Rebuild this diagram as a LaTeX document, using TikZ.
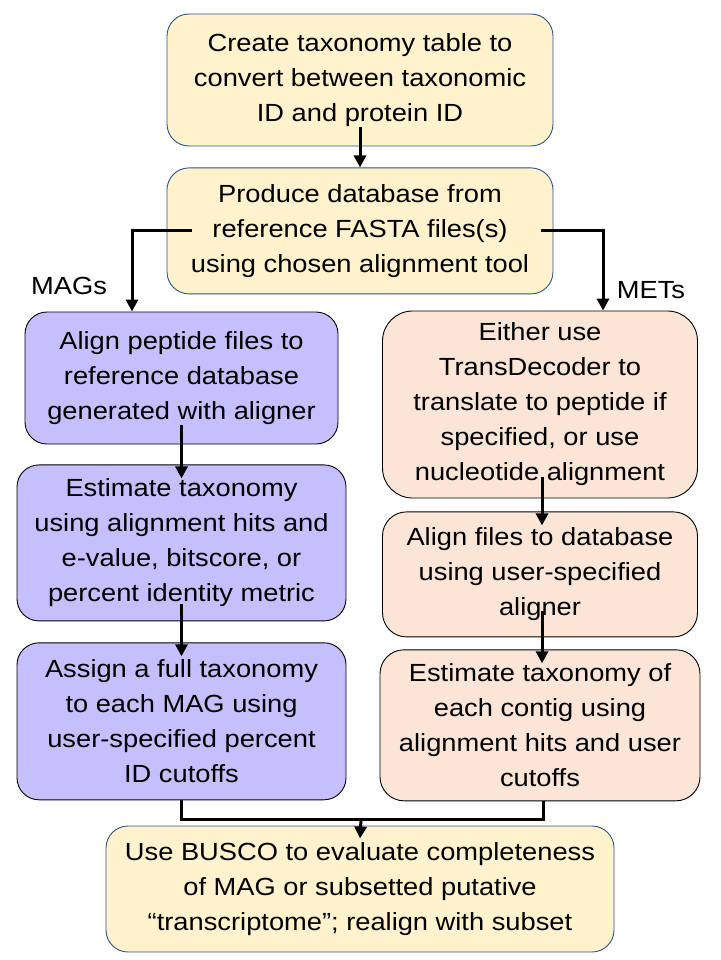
\documentclass[tikz,border=0pt]{standalone}
\usepackage{fontspec}
\setmainfont{Liberation Sans}[FakeStretch=1.1]
\usepackage{xcolor}
\definecolor{TaxYellow}{HTML}{FFF2CC}
\definecolor{TaxEdge}{HTML}{2F528F}
\definecolor{MagViolet}{HTML}{C6BFFD}
\definecolor{MetPeach}{HTML}{FBE5D6}
\usepackage{tikz}
\usetikzlibrary{arrows.meta,positioning}
\tikzset{
  txnode/.style={draw=TaxEdge, fill=TaxYellow, line width=0.9pt, rounded corners=22pt, align=center,
                 font=\fontsize{24.8}{35}\selectfont, inner sep=3pt},
  magnode/.style={draw=black, fill=MagViolet, line width=0.9pt, rounded corners=22pt, align=center,
                 font=\fontsize{24.8}{35}\selectfont, inner sep=3pt},
  metnode/.style={draw=black, fill=MetPeach, line width=0.9pt, rounded corners=24pt, align=center,
                 font=\fontsize{24.8}{35}\selectfont, inner sep=3pt},
  tagnode/.style={font=\fontsize{24.8}{35}\selectfont, inner sep=0pt},
  flowline/.style={line width=3pt, black},
  flowarr/.style={-{Triangle[width=12pt,length=12pt]}, line width=3pt, black}
}

\begin{document}
\begin{tikzpicture}[x=1pt, y=-1pt]
\useasboundingbox (0,0) rectangle (720,960);
% shared steps
\node[txnode, minimum width=386pt, minimum height=132pt] (taxtab) at (360,80)
  {Create taxonomy table to\\convert between taxonomic\\ID and protein ID};
\node[txnode, minimum width=386pt, minimum height=126pt, below=21pt of taxtab] (refdb)
  {Produce database from\\reference FASTA files(s)\\using chosen alignment tool};
% MAG column
\node[magnode, minimum width=313pt, minimum height=132pt] (magalign) at (181.5,378)
  {Align peptide files to\\reference database\\generated with aligner};
\node[magnode, minimum width=329pt, minimum height=156pt, below=20pt of magalign] (magest)
  {Estimate taxonomy\\using alignment hits and\\e-value, bitscore, or\\percent identity metric};
\node[magnode, minimum width=329pt, minimum height=157pt, below=21pt of magest] (magassign)
  {Assign a full taxonomy\\to each MAG using\\user-specified percent\\ID cutoffs};
% MET column
\node[metnode, rounded corners=30pt, minimum width=315pt, minimum height=187pt] (mettrans) at (540,404.5)
  {Either use\\TransDecoder to\\translate to peptide if\\specified, or use\\nucleotide alignment};
\node[metnode, minimum width=315pt, minimum height=125pt, below=13pt of mettrans] (metalign)
  {Align files to database\\using user-specified\\aligner};
\node[metnode, minimum width=320pt, minimum height=151pt, below=12pt of metalign] (metest)
  {Estimate taxonomy of\\each contig using\\alignment hits and user\\cutoffs};
% final step
\node[txnode, minimum width=508pt, minimum height=126pt] (busco) at (360,889)
  {Use BUSCO to evaluate completeness\\of MAG or subsetted putative\\``transcriptome''; realign with subset};
\node[tagnode] (magtag) at (69,286) {MAGs};
\node[tagnode] (mettag) at (651,290) {METs};
\coordinate (merge) at (361,819);

\draw[flowarr] ([yshift=19pt]taxtab.south) -- (refdb.north);
\draw[flowarr] ([xshift=25pt]refdb.west) -| ([xshift=-49.5pt]magalign.north);
\draw[flowarr] ([xshift=-12pt]refdb.east) -| ([xshift=63pt]mettrans.north);
\draw[flowarr] ([yshift=19pt]magalign.south) -- ([yshift=-14pt]magest.north);
\draw[flowarr] ([yshift=17pt]magest.south) -- ([yshift=-14pt]magassign.north);
\draw[flowarr] ([xshift=2pt, yshift=21pt]mettrans.south) -- ([xshift=2pt, yshift=-14pt]metalign.north);
\draw[flowarr] ([xshift=2pt, yshift=26pt]metalign.south) -- ([xshift=2pt, yshift=-14pt]metest.north);
\draw[flowline] (magassign.south) |- (merge) -| ([xshift=3pt]metest.south);
\draw[flowarr] (merge) -- ([yshift=-13pt]busco.north);
\end{tikzpicture}
\end{document}
